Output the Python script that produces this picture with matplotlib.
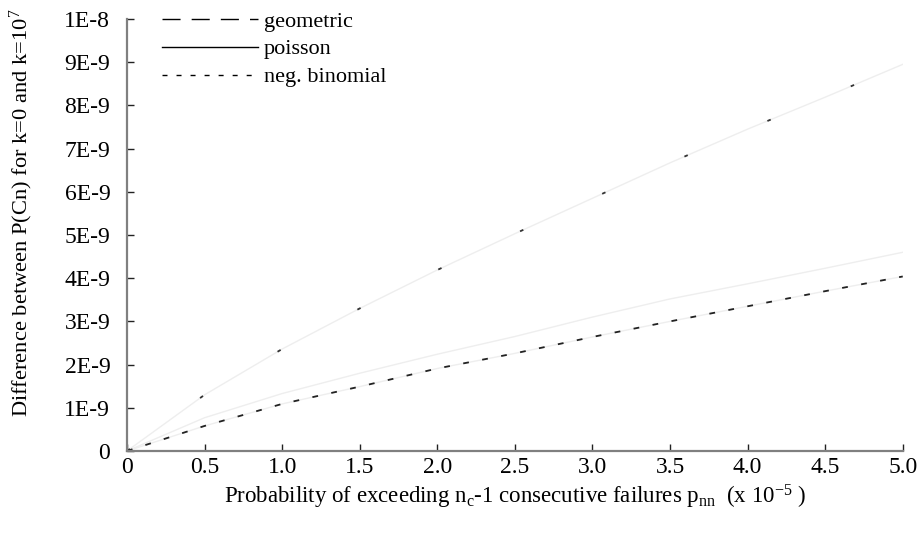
import matplotlib.pyplot as plt
from matplotlib.lines import Line2D

plt.rcParams['font.family'] = ['Liberation Serif', 'DejaVu Serif']
plt.rcParams['mathtext.fontset'] = 'custom'
plt.rcParams['mathtext.rm'] = 'Liberation Serif'
plt.rcParams['mathtext.it'] = 'Liberation Serif:italic'

# values (x in 1e-5, y in 1e-9)
p_nn = [0, 0.5, 1.0, 1.5, 2.0, 2.5, 3.0, 3.5, 4.0, 4.5, 5.0]
geometric = [0, 1.30, 2.36, 3.30, 4.19, 5.03, 5.85, 6.67, 7.45, 8.19, 8.95]
poisson = [0, 0.77, 1.33, 1.80, 2.24, 2.65, 3.10, 3.52, 3.87, 4.23, 4.60]
neg_binomial = [0, 0.58, 1.09, 1.49, 1.91, 2.26, 2.64, 3.00, 3.35, 3.70, 4.04]

xticks = [0, 0.5, 1.0, 1.5, 2.0, 2.5, 3.0, 3.5, 4.0, 4.5, 5.0]
xticklabels = ['0', '0.5', '1.0', '1.5', '2.0', '2.5', '3.0', '3.5', '4.0', '4.5', '5.0']
yticks = list(range(11))
yticklabels = ['0'] + ['%dE-9' % i for i in range(1, 10)] + ['1E-8']

fig = plt.figure(figsize=(9.24, 5.38), dpi=100)
ax = fig.add_axes([0.1374, 0.1617, 0.977 - 0.1374, 0.9647 - 0.1617])

faint = '#eeeeee'
ax.plot(p_nn, geometric, color=faint, lw=1)
ax.plot(p_nn, poisson, color=faint, lw=1)
ax.plot(p_nn, neg_binomial, color=faint, lw=1)
# the few dark bits that show through on the lines
ax.plot(p_nn, geometric, color='#333333', lw=1.3, dashes=(2, 48), dash_capstyle='butt')
ax.plot(p_nn, neg_binomial, color='#222222', lw=1.3, dashes=(3.2, 7.5), dash_capstyle='butt')

ax.set_xlim(0, 5.0)
ax.set_ylim(0, 10)
ax.set_xticks(xticks)
ax.set_xticklabels(xticklabels, fontsize=17)
ax.set_yticks(yticks)
ax.set_yticklabels(yticklabels, fontsize=17)
ax.tick_params(direction='in', length=5, width=1, color='#222222')
ax.tick_params(axis='x', pad=4)
ax.tick_params(axis='y', pad=12)

for s in ['top', 'right']:
    ax.spines[s].set_visible(False)
for s in ['left', 'bottom']:
    ax.spines[s].set_color('#808080')
    ax.spines[s].set_linewidth(1.6)

ax.set_xlabel(r'Probability of exceeding n$_\mathregular{c}$-1 consecutive failures p$_\mathregular{nn}$  (x 10$^\mathregular{-5}$ )',
              fontsize=16.5, labelpad=4)
ax.set_ylabel(r'Difference between P(Cn) for k=0 and k=10$^\mathregular{7}$', fontsize=16.2)
ax.yaxis.set_label_coords(-0.119, 0.552)

handles = [Line2D([], [], color='k', lw=1, dashes=(13, 8)),
           Line2D([], [], color='k', lw=1),
           Line2D([], [], color='k', lw=1, dashes=(3.6, 6.5))]
ax.legend(handles, ['geometric', 'poisson', 'neg. binomial'], loc='upper left',
          bbox_to_anchor=(162 / 924, 1 - 11 / 538), bbox_transform=fig.transFigure,
          frameon=False, fontsize=16, handlelength=4.3, handletextpad=0.27,
          labelspacing=0.33, borderpad=0, borderaxespad=0)

fig.savefig('out.png', dpi=100)
